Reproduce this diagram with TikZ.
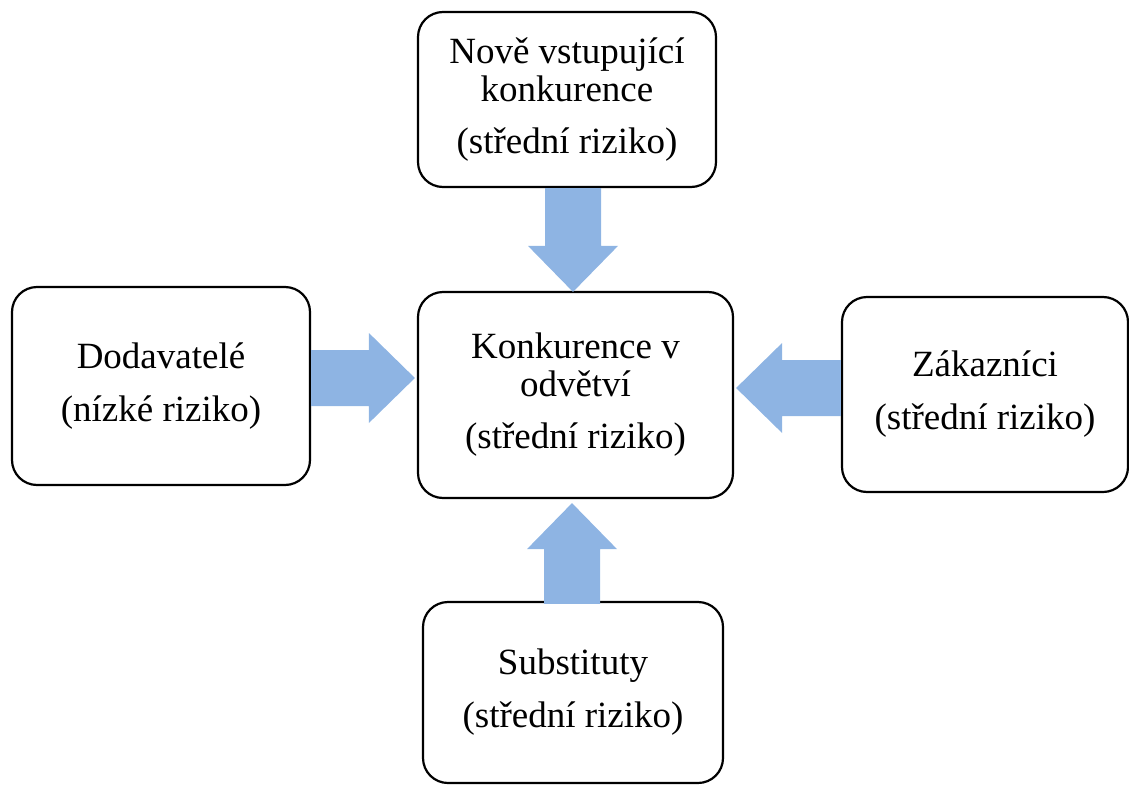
\documentclass[tikz,border=0pt]{standalone}
\usepackage{fontspec}
\setmainfont{Liberation Serif}
\usetikzlibrary{calc}

\definecolor{arrowblue}{HTML}{8EB4E3}

% block arrow from #1 to #2
\newcommand{\flowarrow}[2]{%
  \fill[flow] let \p1=($(#2)-(#1)$), \n1={atan2(\y1,\x1)}, \n2={veclen(\x1,\y1)} in
    [shift={(#1)}, rotate=\n1]
    (0pt,-28pt) -- (\n2-46pt,-28pt) -- (\n2-46pt,-45pt) -- (\n2,0pt)
    -- (\n2-46pt,45pt) -- (\n2-46pt,28pt) -- (0pt,28pt) -- cycle;
}

\begin{document}
\begin{tikzpicture}[
    x=1pt, y=-1pt,
    box/.style={draw, line width=2.2pt, rounded corners=25pt, fill=white,
      align=center, inner sep=0pt, font=\fontsize{37}{38}\selectfont},
    flow/.style={fill=arrowblue}
  ]
  \useasboundingbox (0,0) rectangle (1129,784);

  % Forces around the industry
  \node[box, minimum width=298pt, minimum height=175pt] (entrants) at (567,99.5)
    {Nově vstupující\\konkurence\\[14pt](střední riziko)};
  \node[box, minimum width=298pt, minimum height=198pt] (suppliers) at (161,386)
    {Dodavatelé\\[15pt](nízké riziko)};
  \node[box, minimum width=315pt, minimum height=206pt] (rivalry) at (575.5,395)
    {Konkurence v\\odvětví\\[14pt](střední riziko)};
  \node[box, minimum width=286pt, minimum height=195pt] (buyers) at (985,394.5)
    {Zákazníci\\[15pt](střední riziko)};
  \node[box, minimum width=300pt, minimum height=181pt] (substitutes) at (573,692.5)
    {Substituty\\[15pt](střední riziko)};

  % Arrow tips and tails
  \coordinate (entrants tip) at ($(rivalry.north)+(-2.5,1)$);
  \coordinate (entrants tail) at (entrants.south -| entrants tip);
  \coordinate (suppliers tip) at ($(rivalry.west)+(-2,-17)$);
  \coordinate (suppliers tail) at (suppliers.east |- suppliers tip);
  \coordinate (buyers tip) at ($(rivalry.east)+(2,-7)$);
  \coordinate (buyers tail) at (buyers.west |- buyers tip);
  \coordinate (substitutes tip) at ($(rivalry.south)+(-3.5,4)$);
  \coordinate (substitutes tail) at ($(substitutes.north -| substitutes tip)+(0,3)$);

  % Pressure on the industry
  \flowarrow{entrants tail}{entrants tip}
  \flowarrow{suppliers tail}{suppliers tip}
  \flowarrow{buyers tail}{buyers tip}
  \flowarrow{substitutes tail}{substitutes tip}
\end{tikzpicture}
\end{document}
